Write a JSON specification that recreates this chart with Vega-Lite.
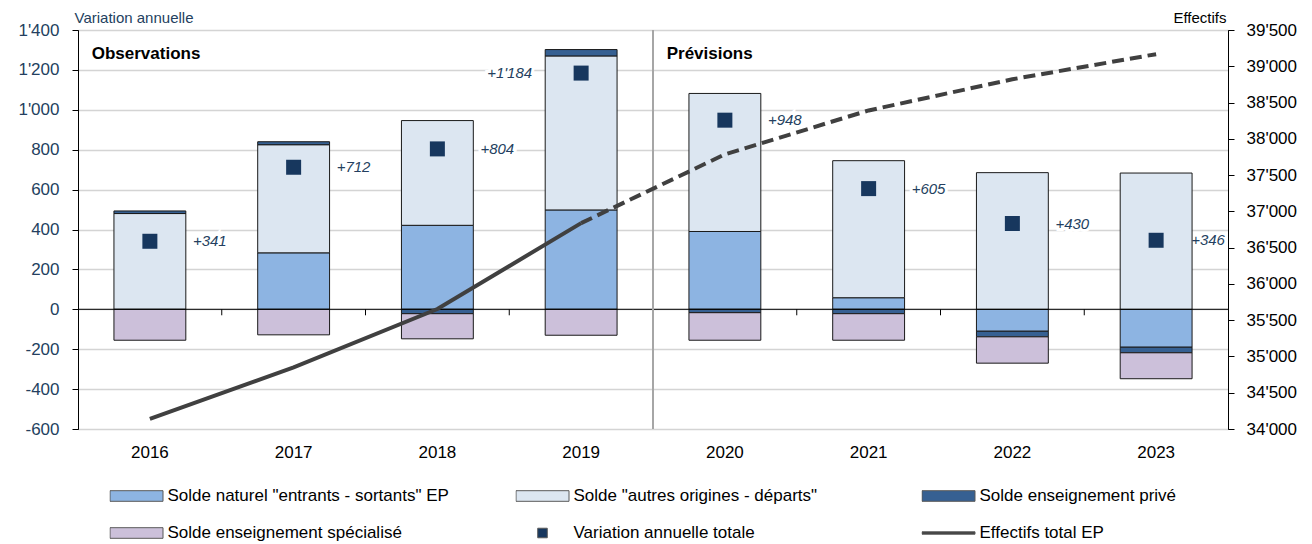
{
  "$schema": "https://vega.github.io/schema/vega-lite/v6.json",
  "width": 1150,
  "height": 399,
  "autosize": {"type": "none"},
  "padding": {"left": 78, "top": 30, "right": 84, "bottom": 115},
  "config": {
    "font": "Liberation Sans",
    "view": {"stroke": "#000000", "strokeWidth": 1},
    "axis": {"labelFont": "Liberation Sans", "titleFont": "Liberation Sans"},
    "legend": {"labelFont": "Liberation Sans"}
  },
  "datasets": {
    "rows": [
      {"year": 2016, "series": "Solde naturel \"entrants - sortants\" EP", "v": 0},
      {"year": 2016, "series": "Solde \"autres origines - départs\"", "v": 480},
      {"year": 2016, "series": "Solde enseignement privé", "v": 13},
      {"year": 2016, "series": "Solde enseignement spécialisé", "v": -155},
      {"year": 2016, "series": "Variation annuelle totale", "v": 341, "label": "+341"},
      {"year": 2016, "series": "Effectifs total EP", "v": 34138},
      {"year": 2017, "series": "Solde naturel \"entrants - sortants\" EP", "v": 283},
      {"year": 2017, "series": "Solde \"autres origines - départs\"", "v": 542},
      {"year": 2017, "series": "Solde enseignement privé", "v": 15},
      {"year": 2017, "series": "Solde enseignement spécialisé", "v": -128},
      {"year": 2017, "series": "Variation annuelle totale", "v": 712, "label": "+712"},
      {"year": 2017, "series": "Effectifs total EP", "v": 34850},
      {"year": 2018, "series": "Solde naturel \"entrants - sortants\" EP", "v": 421},
      {"year": 2018, "series": "Solde \"autres origines - départs\"", "v": 525},
      {"year": 2018, "series": "Solde enseignement privé", "v": -22},
      {"year": 2018, "series": "Solde enseignement spécialisé", "v": -126},
      {"year": 2018, "series": "Variation annuelle totale", "v": 804, "label": "+804"},
      {"year": 2018, "series": "Effectifs total EP", "v": 35654},
      {"year": 2019, "series": "Solde naturel \"entrants - sortants\" EP", "v": 498},
      {"year": 2019, "series": "Solde \"autres origines - départs\"", "v": 772},
      {"year": 2019, "series": "Solde enseignement privé", "v": 32},
      {"year": 2019, "series": "Solde enseignement spécialisé", "v": -130},
      {"year": 2019, "series": "Variation annuelle totale", "v": 1184, "label": "+1'184"},
      {"year": 2019, "series": "Effectifs total EP", "v": 36838},
      {"year": 2020, "series": "Solde naturel \"entrants - sortants\" EP", "v": 390},
      {"year": 2020, "series": "Solde \"autres origines - départs\"", "v": 692},
      {"year": 2020, "series": "Solde enseignement privé", "v": -17},
      {"year": 2020, "series": "Solde enseignement spécialisé", "v": -138},
      {"year": 2020, "series": "Variation annuelle totale", "v": 948, "label": "+948"},
      {"year": 2020, "series": "Effectifs total EP", "v": 37786},
      {"year": 2021, "series": "Solde naturel \"entrants - sortants\" EP", "v": 58},
      {"year": 2021, "series": "Solde \"autres origines - départs\"", "v": 687},
      {"year": 2021, "series": "Solde enseignement privé", "v": -22},
      {"year": 2021, "series": "Solde enseignement spécialisé", "v": -133},
      {"year": 2021, "series": "Variation annuelle totale", "v": 605, "label": "+605"},
      {"year": 2021, "series": "Effectifs total EP", "v": 38391},
      {"year": 2022, "series": "Solde naturel \"entrants - sortants\" EP", "v": -110},
      {"year": 2022, "series": "Solde \"autres origines - départs\"", "v": 685},
      {"year": 2022, "series": "Solde enseignement privé", "v": -28},
      {"year": 2022, "series": "Solde enseignement spécialisé", "v": -132},
      {"year": 2022, "series": "Variation annuelle totale", "v": 430, "label": "+430"},
      {"year": 2022, "series": "Effectifs total EP", "v": 38821},
      {"year": 2023, "series": "Solde naturel \"entrants - sortants\" EP", "v": -190},
      {"year": 2023, "series": "Solde \"autres origines - départs\"", "v": 683},
      {"year": 2023, "series": "Solde enseignement privé", "v": -28},
      {"year": 2023, "series": "Solde enseignement spécialisé", "v": -130},
      {"year": 2023, "series": "Variation annuelle totale", "v": 346, "label": "+346"},
      {"year": 2023, "series": "Effectifs total EP", "v": 39167}
    ],
    "notes": [
      {"year": 2016, "v": 1255, "txt": "Observations"},
      {"year": 2020, "v": 1255, "txt": "Prévisions"}
    ]
  },
  "layer": [
    {
      "layer": [
        {
          "data": {"name": "rows"},
          "transform": [
            {"filter": {"field": "series", "oneOf": ["Solde naturel \"entrants - sortants\" EP", "Solde \"autres origines - départs\"", "Solde enseignement privé", "Solde enseignement spécialisé"]}},
            {"window": [{"op": "row_number", "as": "rk"}], "groupby": ["year"]}
          ],
          "mark": {"type": "bar", "width": {"band": 0.5}, "stroke": "#1a1a1a", "strokeWidth": 1},
          "encoding": {
            "x": {
              "field": "year", "type": "ordinal",
              "scale": {"paddingInner": 0, "paddingOuter": 0},
              "axis": {"title": null, "labelAngle": 0, "ticks": false, "domain": false, "grid": false, "labelFontSize": 17, "labelColor": "#000000", "labelPadding": 15}
            },
            "y": {
              "field": "v", "type": "quantitative", "stack": "zero",
              "scale": {"domain": [-600, 1400], "nice": false, "zero": false},
              "axis": {
                "title": "Variation annuelle", "titleAngle": 0, "titleAlign": "left", "titleBaseline": "alphabetic",
                "titleX": -4, "titleY": -8, "titleFontSize": 15, "titleFontWeight": "normal", "titleColor": "#243F60",
                "values": [-600, -400, -200, 0, 200, 400, 600, 800, 1000, 1200, 1400], "tickCount": 20, "labelOverlap": false,
                "labelExpr": "replace(replace(format(datum.value, ','), ',', \"'\"), '−', '-')",
                "labelFontSize": 17, "labelColor": "#243F60", "labelPadding": 13,
                "tickSize": 6, "tickColor": "#000000", "domainColor": "#000000",
                "grid": true, "gridColor": "#D4D4D4", "gridWidth": 1.5
              }
            },
            "color": {
              "field": "series", "type": "nominal",
              "scale": {
                "domain": ["Solde naturel \"entrants - sortants\" EP", "Solde \"autres origines - départs\"", "Solde enseignement privé", "Solde enseignement spécialisé", "Variation annuelle totale", "Effectifs total EP"],
                "range": ["#8DB4E2", "#DCE6F1", "#366092", "#CCC0DA", "#17375E", "#404040"]
              },
              "legend": {
                "title": null, "orient": "none", "legendX": 31.5, "legendY": 457, "direction": "horizontal",
                "columns": 3, "gridAlign": "all", "columnPadding": 66, "rowPadding": 19,
                "clipHeight": 18, "symbolSize": 2809, "symbolStrokeWidth": 1, "symbolStrokeColor": "#595959",
                "symbolOffset": 0, "labelOffset": 4, "padding": 0,
                "labelFontSize": 17, "labelColor": "#000000", "labelLimit": 500,
                "encode": {"symbols": {"update": {"stroke": {"value": "#595959"}, "strokeWidth": {"value": 1}, "size": {"value": 2809}}}}
              }
            },
            "order": {"field": "rk", "type": "quantitative", "sort": "ascending"}
          }
        },
        {
          "data": {"values": [{}]},
          "mark": {"type": "rule", "color": "#000000", "strokeWidth": 1},
          "encoding": {"y": {"datum": 0, "type": "quantitative"}}
        },
        {
          "data": {"name": "rows"},
          "transform": [{"filter": {"field": "series", "equal": "Variation annuelle totale"}}, {"filter": "datum.year != 2016"}],
          "mark": {"type": "rule", "color": "#000000", "strokeWidth": 1},
          "encoding": {
            "x": {"field": "year", "type": "ordinal", "bandPosition": 0},
            "y": {"datum": 0, "type": "quantitative"},
            "y2": {"datum": -30}
          }
        },
        {
          "data": {"values": [{}]},
          "mark": {"type": "rule", "color": "#A6A6A6", "strokeWidth": 2},
          "encoding": {"x": {"datum": 2020, "type": "ordinal", "bandPosition": 0}}
        },
        {
          "data": {"name": "rows"},
          "transform": [{"filter": {"field": "series", "equal": "Variation annuelle totale"}}],
          "mark": {"type": "point", "filled": true, "opacity": 1, "size": 6944},
          "encoding": {
            "x": {"field": "year", "type": "ordinal"},
            "y": {"field": "v", "type": "quantitative"},
            "color": {"field": "series", "type": "nominal"},
            "shape": {
              "field": "series", "type": "nominal",
              "scale": {
                "domain": ["Solde naturel \"entrants - sortants\" EP", "Solde \"autres origines - départs\"", "Solde enseignement privé", "Solde enseignement spécialisé", "Variation annuelle totale", "Effectifs total EP"],
                "range": ["M-1,-0.2H1V0.2H-1Z", "M-1,-0.2H1V0.2H-1Z", "M-1,-0.2H1V0.2H-1Z", "M-1,-0.2H1V0.2H-1Z", "M-0.18,-0.18H0.18V0.18H-0.18Z", "M-1,-0.045H1V0.045H-1Z"]
              }
            }
          }
        },
        {
          "data": {"name": "rows"},
          "transform": [{"filter": {"field": "series", "equal": "Variation annuelle totale"}}, {"filter": "datum.year != 2019 && datum.year != 2023"}],
          "mark": {"type": "text", "align": "left", "baseline": "middle", "dx": 43, "fontSize": 15, "fontStyle": "italic", "color": "#FFFFFF", "stroke": "#FFFFFF", "strokeWidth": 6},
          "encoding": {"x": {"field": "year", "type": "ordinal"}, "y": {"field": "v", "type": "quantitative"}, "text": {"field": "label"}}
        },
        {
          "data": {"name": "rows"},
          "transform": [{"filter": {"field": "series", "equal": "Variation annuelle totale"}}, {"filter": "datum.year == 2019"}],
          "mark": {"type": "text", "align": "right", "baseline": "middle", "dx": -49, "fontSize": 15, "fontStyle": "italic", "color": "#FFFFFF", "stroke": "#FFFFFF", "strokeWidth": 6},
          "encoding": {"x": {"field": "year", "type": "ordinal"}, "y": {"field": "v", "type": "quantitative"}, "text": {"field": "label"}}
        },
        {
          "data": {"name": "rows"},
          "transform": [{"filter": {"field": "series", "equal": "Variation annuelle totale"}}, {"filter": "datum.year != 2019 && datum.year != 2023"}],
          "mark": {"type": "text", "align": "left", "baseline": "middle", "dx": 43, "fontSize": 15, "fontStyle": "italic", "color": "#243F60"},
          "encoding": {"x": {"field": "year", "type": "ordinal"}, "y": {"field": "v", "type": "quantitative"}, "text": {"field": "label"}}
        },
        {
          "data": {"name": "rows"},
          "transform": [{"filter": {"field": "series", "equal": "Variation annuelle totale"}}, {"filter": "datum.year == 2019"}],
          "mark": {"type": "text", "align": "right", "baseline": "middle", "dx": -49, "fontSize": 15, "fontStyle": "italic", "color": "#243F60"},
          "encoding": {"x": {"field": "year", "type": "ordinal"}, "y": {"field": "v", "type": "quantitative"}, "text": {"field": "label"}}
        },
        {
          "data": {"name": "rows"},
          "transform": [{"filter": {"field": "series", "equal": "Variation annuelle totale"}}, {"filter": "datum.year == 2023"}],
          "mark": {"type": "text", "align": "left", "baseline": "middle", "dx": 35, "fontSize": 15, "fontStyle": "italic", "color": "#243F60"},
          "encoding": {"x": {"field": "year", "type": "ordinal"}, "y": {"field": "v", "type": "quantitative"}, "text": {"field": "label"}}
        },
        {
          "data": {"name": "notes"},
          "mark": {"type": "text", "align": "left", "baseline": "alphabetic", "dx": 13.7, "fontSize": 17, "fontWeight": "bold", "color": "#000000"},
          "encoding": {"x": {"field": "year", "type": "ordinal", "bandPosition": 0}, "y": {"field": "v", "type": "quantitative"}, "text": {"field": "txt"}}
        }
      ]
    },
    {
      "data": {"name": "rows"},
      "transform": [{"filter": {"field": "series", "equal": "Effectifs total EP"}}],
      "layer": [
        {
          "transform": [{"filter": "datum.year <= 2019"}],
          "mark": {"type": "line", "color": "#404040", "strokeWidth": 4},
          "encoding": {
            "x": {"field": "year", "type": "ordinal"},
            "y": {
              "field": "v", "type": "quantitative",
              "scale": {"domain": [34000, 39500], "nice": false, "zero": false},
              "axis": {
                "orient": "right", "title": "Effectifs", "titleAngle": 0, "titleAlign": "right", "titleBaseline": "alphabetic",
                "titleX": -2, "titleY": -8, "titleFontSize": 15, "titleFontWeight": "normal", "titleColor": "#000000",
                "values": [34000, 34500, 35000, 35500, 36000, 36500, 37000, 37500, 38000, 38500, 39000, 39500], "tickCount": 20, "labelOverlap": false,
                "labelExpr": "replace(replace(format(datum.value, ','), ',', \"'\"), '−', '-')",
                "labelFontSize": 17, "labelColor": "#000000", "labelPadding": 12,
                "tickSize": 6, "tickColor": "#000000", "domainColor": "#000000", "grid": false
              }
            }
          }
        },
        {
          "transform": [{"filter": "datum.year >= 2019"}],
          "mark": {"type": "line", "color": "#404040", "strokeWidth": 4, "strokeDash": [12, 6]},
          "encoding": {
            "x": {"field": "year", "type": "ordinal"},
            "y": {"field": "v", "type": "quantitative"}
          }
        }
      ]
    }
  ],
  "resolve": {"scale": {"y": "independent"}}
}
